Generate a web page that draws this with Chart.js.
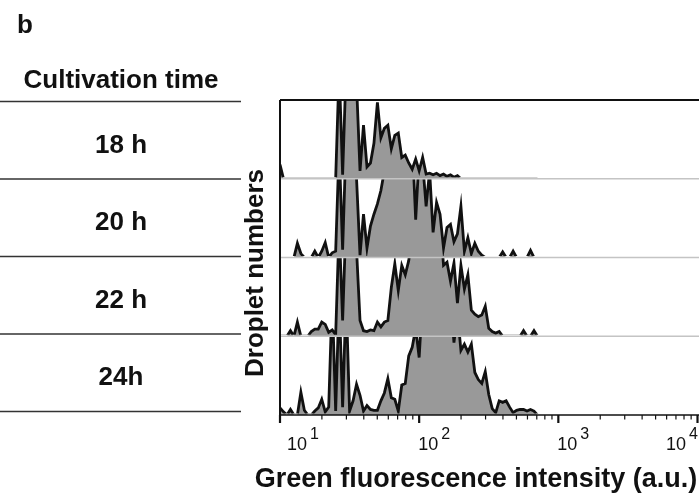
<!DOCTYPE html>
<html>
<head>
<meta charset="utf-8">
<script src="https://cdn.jsdelivr.net/npm/chart.js@4.4.1/dist/chart.umd.min.js"></script>
<style>
  html, body { margin: 0; padding: 0; background: #fff; }
  canvas { display: block; }
</style>
</head>
<body>
<canvas id="chart" width="699" height="496"></canvas>
<script>
// bin centres as log10(intensity)
const logBins = [
  1.000, 1.025, 1.050, 1.075, 1.100, 1.125, 1.150, 1.175, 1.200, 1.225,
  1.250, 1.275, 1.300, 1.325, 1.350, 1.375, 1.400, 1.425, 1.450, 1.475,
  1.500, 1.525, 1.550, 1.575, 1.600, 1.625, 1.650, 1.675, 1.700, 1.725,
  1.750, 1.775, 1.800, 1.825, 1.850, 1.875, 1.900, 1.925, 1.950, 1.975,
  2.000, 2.025, 2.050, 2.075, 2.100, 2.125, 2.150, 2.175, 2.200, 2.225,
  2.250, 2.275, 2.300, 2.325, 2.350, 2.375, 2.400, 2.425, 2.450, 2.475,
  2.500, 2.525, 2.550, 2.575, 2.600, 2.625, 2.650, 2.675, 2.700, 2.725,
  2.750, 2.775, 2.800, 2.825, 2.850,
];

// droplet counts per bin (panel scale 0-100, taller peaks run off the top)
const counts18h = [
  18, 0, 0, 0, 0, 0, 0, 0, 0, 0,
  0, 0, 0, 0, 0, 0, 0, 140, 5, 140,
  150, 150, 120, 10, 68, 15, 20, 45, 97, 52,
  64, 68, 38, 55, 58, 27, 30, 20, 12, 25,
  10, 27, 6, 7, 5, 7, 4, 6, 3, 5,
  2, 4, 0, 0, 0, 0, 0, 0, 0, 0,
  0, 0, 0, 0, 0, 0, 0, 0, 0, 0,
  0, 0, 0, 0, 0,
];
const counts20h = [
  0, 0, 0, 0, 0, 18, 5, 0, 0, 0,
  8, 0, 8, 19, 0, 6, 8, 140, 10, 150,
  160, 130, 100, 3, 55, 12, 40, 55, 68, 85,
  110, 150, 150, 150, 150, 150, 150, 150, 150, 48,
  130, 120, 65, 110, 32, 70, 55, 12, 38, 42,
  20, 30, 65, 8, 25, 5, 18, 8, 3, 0,
  0, 0, 0, 0, 7, 0, 0, 8, 0, 0,
  0, 0, 9, 0, 0,
];
const counts22h = [
  0, 0, 0, 7, 0, 18, 0, 0, 0, 6,
  9, 9, 18, 15, 5, 8, 2, 140, 20, 150,
  160, 150, 110, 20, 7, 6, 8, 7, 18, 12,
  18, 20, 62, 92, 58, 90, 78, 96, 130, 150,
  150, 150, 150, 150, 150, 150, 150, 90, 94, 70,
  93, 42, 90, 60, 78, 33, 28, 25, 27, 38,
  10, 6, 4, 6, 0, 0, 0, 0, 0, 0,
  7, 0, 0, 7, 0,
];
const counts24h = [
  9, 4, 0, 7, 0, 0, 29, 6, 0, 0,
  5, 9, 20, 4, 10, 150, 5, 150, 10, 150,
  5, 18, 39, 25, 5, 12, 7, 6, 6, 18,
  28, 46, 22, 20, 5, 38, 40, 75, 86, 110,
  73, 150, 150, 150, 150, 150, 150, 150, 150, 150,
  92, 130, 82, 90, 80, 90, 54, 45, 40, 55,
  26, 8, 3, 18, 16, 18, 10, 3, 6, 7,
  7, 5, 7, 5, 0,
];

const panelLabels = ["18 h", "20 h", "22 h", "24h"];
const decadeTicks = [10, 100, 1000, 10000];
const decadeExponents = ["1", "2", "3", "4"];
const minorSteps = [2, 3, 4, 5, 6, 7, 8, 9];

const panelCounts = [counts18h, counts20h, counts22h, counts24h];
const panelIds = ["p18", "p20", "p22", "p24"];

const fillGray = "#999999";
const inkColor = "#111111";
const boldFont = (size) => `bold ${size}px "Liberation Sans", Arial, sans-serif`;
const plainFont = (size) => `${size}px "Liberation Sans", Arial, sans-serif`;

const panelsPlugin = {
  id: "panels",
  beforeDatasetDraw(chart, args) {
    const { ctx, chartArea } = chart;
    const ys = chart.scales[args.meta.yAxisID];
    const pts = args.meta.data;
    const base = ys.getPixelForValue(0);
    const w = chartArea.right - chartArea.left;

    // gray fill, cut to this panel
    ctx.save();
    ctx.beginPath();
    ctx.rect(chartArea.left, ys.top, w, ys.bottom - ys.top);
    ctx.clip();
    ctx.beginPath();
    ctx.moveTo(pts[0].x, base);
    pts.forEach((p) => ctx.lineTo(p.x, p.y));
    ctx.lineTo(pts[pts.length - 1].x, base);
    ctx.closePath();
    ctx.fillStyle = fillGray;
    ctx.fill();
    ctx.restore();

    // outline clipped just above the baseline
    ctx.save();
    ctx.beginPath();
    ctx.rect(chartArea.left, ys.top, w, ys.bottom - ys.top - 1.5);
    ctx.clip();
  },
  afterDatasetDraw(chart) {
    chart.ctx.restore();
  },
  afterDraw(chart) {
    const { ctx, chartArea } = chart;
    const xs = chart.scales.x;
    const W = chart.width;

    ctx.save();
    ctx.lineCap = "butt";

    // panel separators
    ctx.strokeStyle = "#c4c4c4";
    ctx.lineWidth = 1.5;
    panelIds.slice(1).forEach((id) => {
      const y = chart.scales[id].top;
      ctx.beginPath();
      ctx.moveTo(chartArea.left, y);
      ctx.lineTo(W, y);
      ctx.stroke();
    });

    // frame: top, left, bottom axis
    ctx.strokeStyle = inkColor;
    ctx.lineWidth = 2;
    ctx.beginPath();
    ctx.moveTo(chartArea.left, chartArea.top);
    ctx.lineTo(W, chartArea.top);
    ctx.moveTo(chartArea.left, chartArea.top);
    ctx.lineTo(chartArea.left, chartArea.bottom);
    ctx.stroke();
    ctx.lineWidth = 1.5;
    ctx.beginPath();
    ctx.moveTo(chartArea.left, chartArea.bottom);
    ctx.lineTo(W, chartArea.bottom);
    ctx.stroke();

    // ticks
    ctx.lineWidth = 1.2;
    decadeTicks.slice(0, 3).forEach((d) => {
      minorSteps.forEach((m) => {
        const x = xs.getPixelForValue(d * m);
        ctx.beginPath();
        ctx.moveTo(x, chartArea.bottom);
        ctx.lineTo(x, chartArea.bottom + 4.5);
        ctx.stroke();
      });
    });
    ctx.lineWidth = 2.2;
    decadeTicks.forEach((d) => {
      const x = xs.getPixelForValue(d);
      ctx.beginPath();
      ctx.moveTo(x, chartArea.bottom);
      ctx.lineTo(x, chartArea.bottom + 8);
      ctx.stroke();
    });

    // tick labels 10^n
    ctx.fillStyle = inkColor;
    ctx.textBaseline = "alphabetic";
    ctx.textAlign = "left";
    decadeTicks.forEach((d, i) => {
      const x = xs.getPixelForValue(d);
      ctx.font = plainFont(18);
      const wBase = ctx.measureText("10").width;
      ctx.font = plainFont(16);
      const wExp = ctx.measureText(decadeExponents[i]).width;
      let left = Math.max(x - 1, 287);
      left = Math.min(left, W - 1 - wBase - 3 - wExp);
      ctx.font = plainFont(18);
      ctx.fillText("10", left, 450);
      ctx.font = plainFont(16);
      ctx.fillText(decadeExponents[i], left + wBase + 3, 439);
    });

    // axis titles
    ctx.font = boldFont(27);
    ctx.textAlign = "center";
    ctx.fillText("Green fluorescence intensity (a.u.)", 476, 487);

    ctx.save();
    ctx.translate(263, 273);
    ctx.rotate(-Math.PI / 2);
    ctx.font = boldFont(26);
    ctx.fillText("Droplet numbers", 0, 0);
    ctx.restore();

    // left table
    ctx.font = boldFont(26);
    ctx.textAlign = "left";
    ctx.fillText("b", 17, 33);
    ctx.textAlign = "center";
    ctx.fillText("Cultivation time", 121, 88);

    const tableTop = 101.5;
    const rowH = 77.5;
    ctx.strokeStyle = "#333333";
    ctx.lineWidth = 1.5;
    for (let r = 0; r <= panelLabels.length; r++) {
      const y = tableTop + r * rowH;
      ctx.beginPath();
      ctx.moveTo(0, y);
      ctx.lineTo(241, y);
      ctx.stroke();
    }
    panelLabels.forEach((label, r) => {
      ctx.fillText(label, 121, tableTop + r * rowH + 51);
    });

    ctx.restore();
  },
};

const yScale = (weight) => ({
  type: "linear",
  display: false,
  stack: "panels",
  stackWeight: 1,
  weight: weight,
  min: 0,
  max: 100,
});

const scales = {
  x: { type: "logarithmic", display: false, min: 10, max: 10000 },
};
panelIds.forEach((id, i) => {
  scales[id] = yScale(panelIds.length - i);
});

new Chart(document.getElementById("chart"), {
  type: "line",
  data: {
    datasets: panelCounts.map((counts, i) => ({
      label: panelLabels[i],
      data: counts.map((c, k) => ({ x: Math.pow(10, logBins[k]), y: c })),
      yAxisID: panelIds[i],
      borderColor: inkColor,
      borderWidth: 2.8,
      pointRadius: 0,
      tension: 0,
      fill: false,
    })),
  },
  options: {
    responsive: false,
    animation: false,
    devicePixelRatio: 1,
    layout: { padding: { left: 280, right: 1.5, top: 100, bottom: 81 } },
    scales: scales,
    plugins: {
      legend: { display: false },
      tooltip: { enabled: false },
    },
  },
  plugins: [panelsPlugin],
});
</script>
</body>
</html>
